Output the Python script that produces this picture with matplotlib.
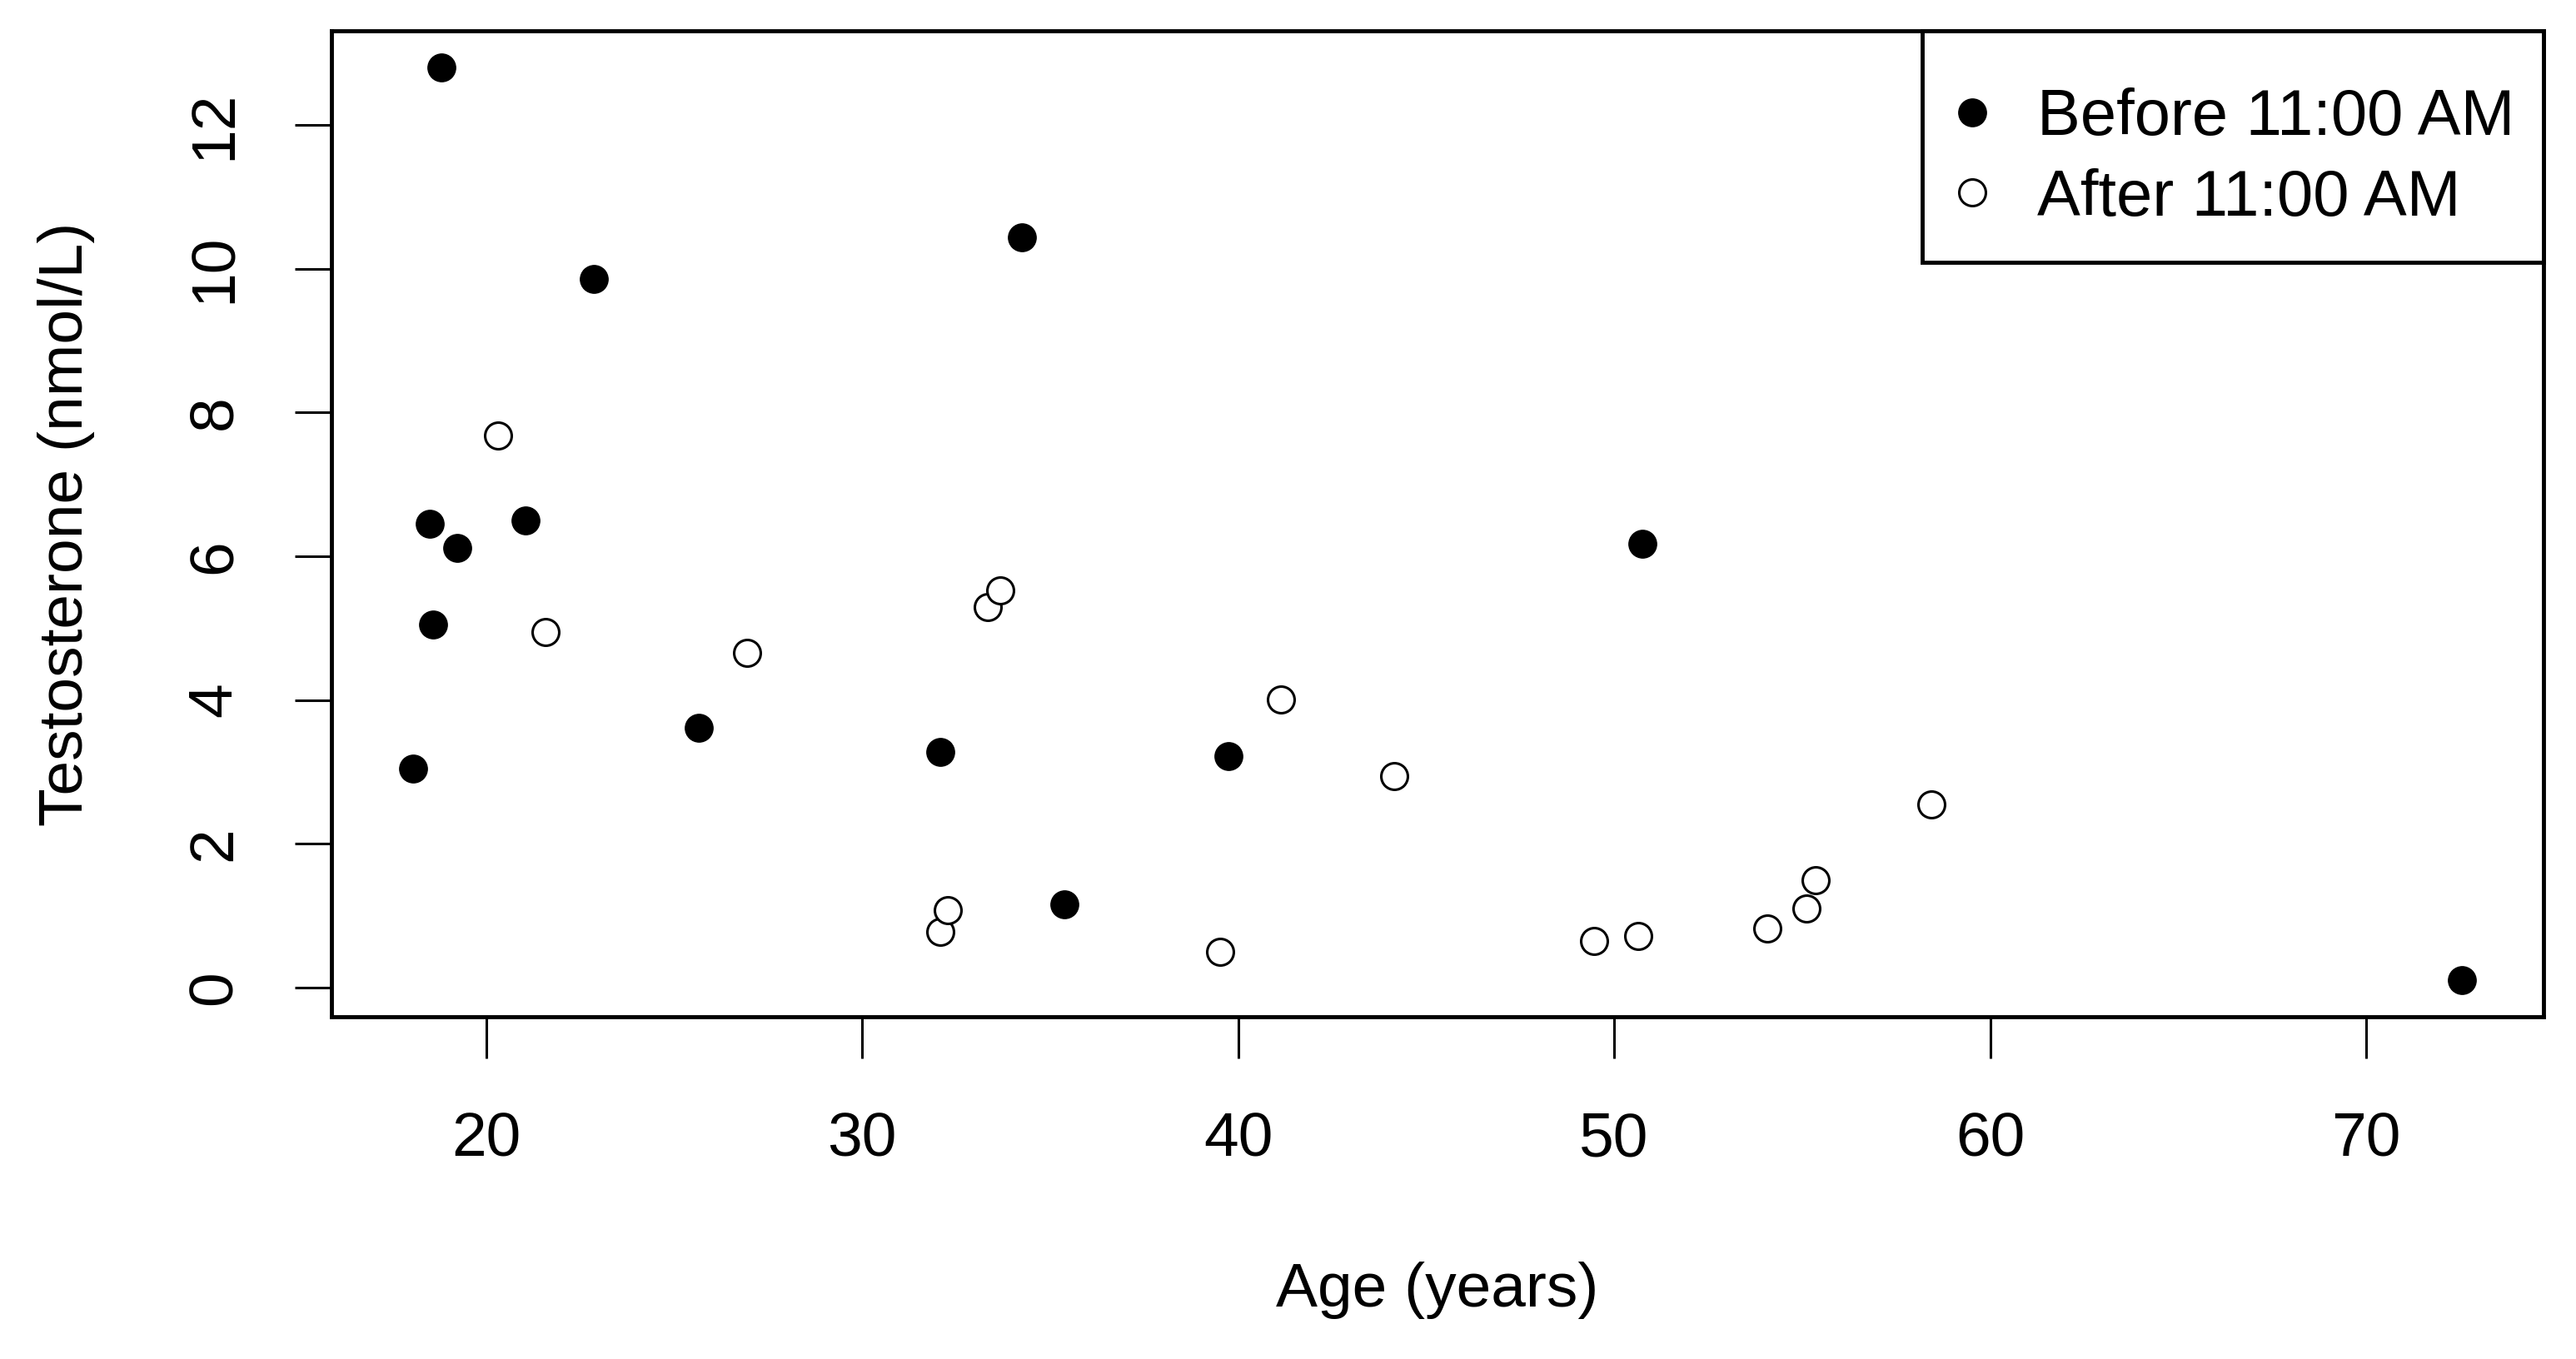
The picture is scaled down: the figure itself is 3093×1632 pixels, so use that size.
import matplotlib
matplotlib.use("Agg")
import matplotlib.pyplot as plt
from matplotlib.patches import Rectangle

# Before 11:00 AM (filled)
age_before = [18.07, 18.81, 18.50, 18.59, 19.23, 21.05, 22.87, 25.65,
              32.07, 34.25, 35.39, 39.75, 50.76, 72.54]
testo_before = [3.05, 12.80, 6.45, 5.05, 6.12, 6.50, 9.86, 3.61,
                3.28, 10.44, 1.16, 3.22, 6.17, 0.10]

# After 11:00 AM (open)
age_after = [20.32, 21.59, 26.94, 32.07, 32.29, 33.34, 33.68, 39.53,
             41.13, 44.15, 49.47, 50.65, 54.07, 55.11, 55.35, 58.44]
testo_after = [7.68, 4.95, 4.66, 0.77, 1.07, 5.29, 5.52, 0.50,
               4.01, 2.94, 0.65, 0.72, 0.82, 1.10, 1.49, 2.55]

plt.rcParams['font.family'] = ['Liberation Sans', 'DejaVu Sans']

fig = plt.figure(figsize=(30.93, 16.32), dpi=100)
ax = fig.add_axes([0.1287, 0.2518, 0.8587, 0.7255])

ax.plot(age_before, testo_before, 'o', color='black', markersize=24,
        label='Before 11:00 AM')
ax.plot(age_after, testo_after, 'o', markerfacecolor='white',
        markeredgecolor='black', markeredgewidth=2.2, markersize=23,
        label='After 11:00 AM')

# R style 4% padding of the axis range
all_x = age_before + age_after
all_y = testo_before + testo_after
px = 0.04 * (max(all_x) - min(all_x))
py = 0.04 * (max(all_y) - min(all_y))
ax.set_xlim(min(all_x) - px, max(all_x) + px)
ax.set_ylim(min(all_y) - py, max(all_y) + py)

ax.set_xticks([20, 30, 40, 50, 60, 70])
ax.set_yticks([0, 2, 4, 6, 8, 10, 12])
ax.tick_params(axis='x', length=36, width=2.2, labelsize=54, pad=46)
ax.tick_params(axis='y', length=32, width=2.2, labelsize=54, pad=44,
               labelrotation=90)
for lab in ax.get_yticklabels():
    lab.set_verticalalignment('center')
for sp in ax.spines.values():
    sp.set_linewidth(3.5)

fig.text(1726 / 3093, 1 - 1550 / 1632, 'Age (years)', fontsize=54,
         ha='center', va='center')
fig.text(80 / 3093, 1 - 629 / 1632, 'Testosterone (nmol/L)', fontsize=54,
         ha='center', va='center', rotation=90)

# legend box drawn separately, R draws it with more vertical room
ax.add_patch(Rectangle((0.719, 0.765), 0.281, 0.235, transform=ax.transAxes,
                       facecolor='white', edgecolor='black', linewidth=3.5,
                       zorder=5, clip_on=False))
leg = ax.legend(loc='upper right', bbox_to_anchor=(1.0, 0.972), fontsize=56,
                frameon=False, borderaxespad=0, handlelength=1.0,
                handletextpad=0.5, borderpad=0.45, labelspacing=0.3)
leg.set_zorder(6)

fig.savefig('out.png', dpi=100)
